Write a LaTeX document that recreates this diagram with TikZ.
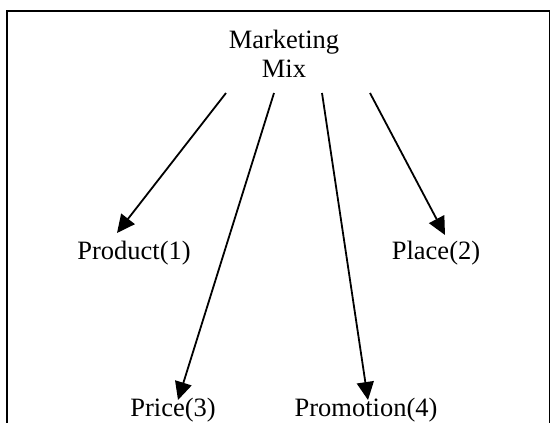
\documentclass[tikz,border=0pt]{standalone}
\usepackage{fontspec}
\setmainfont{Liberation Serif}
\usetikzlibrary{arrows.meta}
\tikzset{
  lbl/.style={inner sep=0pt, anchor=base, font=\fontsize{26.5bp}{29bp}\selectfont},
  arr/.style={line width=1.8bp, -{Triangle[length=18bp,width=17bp]}},
  frame/.style={line width=2.5bp}
}
\begin{document}
\begin{tikzpicture}[x=1bp,y=-1bp]
\useasboundingbox (0,0) rectangle (550,422);
\clip (0,0) rectangle (550,422);
\fill[white] (0,0) rectangle (550,422);
\draw[frame] (7,440) -- (7,11) -- (550.5,11) -- (550.5,440);
\node[lbl, align=center] (mm) at (284,77) {Marketing\\Mix};
\node[lbl] (p1) at (134,259) {Product(1)};
\node[lbl] (p2) at (436,259) {Place(2)};
\node[lbl] (p3) at (173,416) {Price(3)};
\node[lbl] (p4) at (366,416) {Promotion(4)};
\coordinate (s1) at (226,93);
\coordinate (s2) at (274,93);
\coordinate (s3) at (322,93);
\coordinate (s4) at (370,93);
\coordinate (t1) at (117,233);
\coordinate (t2) at (445,235);
\coordinate (t3) at (178,400);
\coordinate (t4) at (368,400);
\draw[arr] (s1) -- (t1);
\draw[arr] (s4) -- (t2);
\draw[arr] (s2) -- (t3);
\draw[arr] (s3) -- (t4);
\end{tikzpicture}
\end{document}
